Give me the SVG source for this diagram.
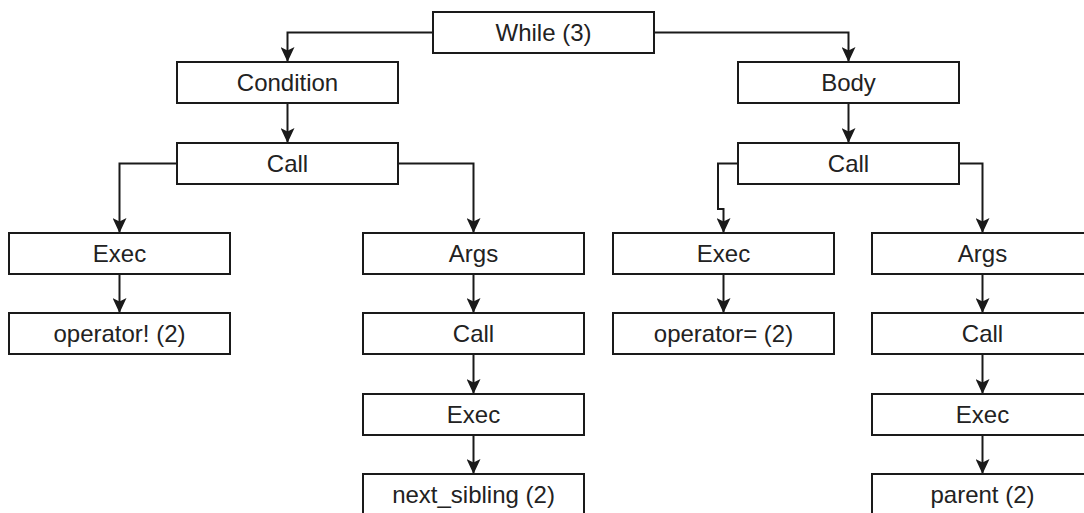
<svg xmlns="http://www.w3.org/2000/svg" width="1084" height="513" viewBox="0 0 1084 513">
<defs>
<style>
.box{fill:#fff;stroke:#1a1a1a;stroke-width:2}
.lbl{font-family:"Liberation Sans",Arial,sans-serif;font-size:24px;fill:#222;text-anchor:middle}
.edge{fill:none;stroke:#1a1a1a;stroke-width:2;marker-end:url(#arr)}
</style>
<marker id="arr" markerUnits="userSpaceOnUse" markerWidth="15" markerHeight="14" refX="15" refY="7" orient="auto">
<path d="M0,0 L15,7 L0,14 L3.5,7 Z" fill="#1a1a1a"/>
</marker>
</defs>
<rect width="1084" height="513" fill="#fff"/>
<g id="connectors">
<path class="edge" d="M433,32.5 H287.5 V62"/>
<path class="edge" d="M654,32.5 H848.5 V62"/>
<path class="edge" d="M287.5,103 V143"/>
<path class="edge" d="M848.5,103 V143"/>
<path class="edge" d="M177,163.5 H119.5 V233"/>
<path class="edge" d="M398,163.5 H473.5 V233"/>
<path class="edge" d="M738,163.5 H718 V209 H723.5 V233"/>
<path class="edge" d="M959,163.5 H982.5 V233"/>
<path class="edge" d="M119.5,274 V313"/>
<path class="edge" d="M473.5,274 V313"/>
<path class="edge" d="M473.5,354 V394"/>
<path class="edge" d="M473.5,435 V474"/>
<path class="edge" d="M723.5,274 V313"/>
<path class="edge" d="M982.5,274 V313"/>
<path class="edge" d="M982.5,354 V394"/>
<path class="edge" d="M982.5,435 V474"/>
</g>
<g id="while"><rect class="box" x="433" y="12" width="221" height="41"/><text class="lbl" x="543.5" y="41">While (3)</text></g>
<g id="condition"><rect class="box" x="177" y="62" width="221" height="41"/><text class="lbl" x="287.5" y="91">Condition</text></g>
<g id="body"><rect class="box" x="738" y="62" width="221" height="41"/><text class="lbl" x="848.5" y="91">Body</text></g>
<g id="call1"><rect class="box" x="177" y="143" width="221" height="41"/><text class="lbl" x="287.5" y="172">Call</text></g>
<g id="call2"><rect class="box" x="738" y="143" width="221" height="41"/><text class="lbl" x="848.5" y="172">Call</text></g>
<g id="exec1"><rect class="box" x="9" y="233" width="221" height="41"/><text class="lbl" x="119.5" y="262">Exec</text></g>
<g id="args1"><rect class="box" x="363" y="233" width="221" height="41"/><text class="lbl" x="473.5" y="262">Args</text></g>
<g id="exec2"><rect class="box" x="613" y="233" width="221" height="41"/><text class="lbl" x="723.5" y="262">Exec</text></g>
<g id="args2"><rect class="box" x="872" y="233" width="221" height="41"/><text class="lbl" x="982.5" y="262">Args</text></g>
<g id="opnot"><rect class="box" x="9" y="313" width="221" height="41"/><text class="lbl" x="119.5" y="342">operator! (2)</text></g>
<g id="call3"><rect class="box" x="363" y="313" width="221" height="41"/><text class="lbl" x="473.5" y="342">Call</text></g>
<g id="opeq"><rect class="box" x="613" y="313" width="221" height="41"/><text class="lbl" x="723.5" y="342">operator= (2)</text></g>
<g id="call4"><rect class="box" x="872" y="313" width="221" height="41"/><text class="lbl" x="982.5" y="342">Call</text></g>
<g id="exec3"><rect class="box" x="363" y="394" width="221" height="41"/><text class="lbl" x="473.5" y="423">Exec</text></g>
<g id="exec4"><rect class="box" x="872" y="394" width="221" height="41"/><text class="lbl" x="982.5" y="423">Exec</text></g>
<g id="nextsib"><rect class="box" x="363" y="474" width="221" height="41"/><text class="lbl" x="473.5" y="503">next_sibling (2)</text></g>
<g id="parent"><rect class="box" x="872" y="474" width="221" height="41"/><text class="lbl" x="982.5" y="503">parent (2)</text></g>
</svg>
